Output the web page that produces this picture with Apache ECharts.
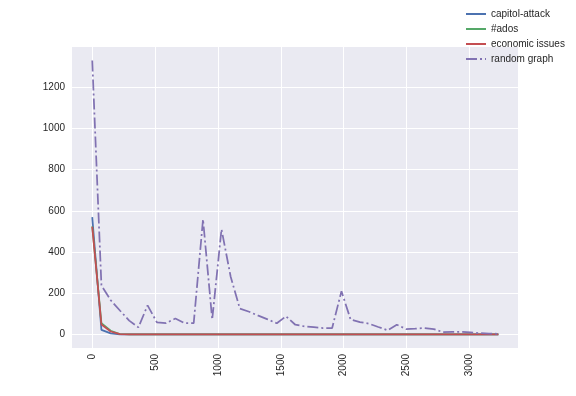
<!DOCTYPE html>
<html lang="en">
<head>
  <meta charset="UTF-8">
  <title>Document</title>
  <style>
    html, body { margin: 0; padding: 0; background: #fff; }
    #chart { width: 576px; height: 396px; }
  </style>
</head>
<body>
  <div id="chart"></div>
  <script src="https://cdn.jsdelivr.net/npm/echarts@6/dist/echarts.min.js"></script>
  <script>
    const xValues = [0, 73, 147, 220, 294, 367, 440, 514, 587, 661, 734, 807, 881, 954, 1028,
      1101, 1174, 1248, 1321, 1395, 1468, 1541, 1615, 1688, 1762, 1835, 1908, 1982, 2055, 2129,
      2202, 2275, 2349, 2422, 2496, 2569, 2642, 2716, 2789, 2863, 2936, 3009, 3083, 3156, 3230];

    const capitolAttack = [570, 22, 5, 0, 0, 0, 0, 0, 0, 0, 0, 0, 0, 0, 0,
      0, 0, 0, 0, 0, 0, 0, 0, 0, 0, 0, 0, 0, 0, 0,
      0, 0, 0, 0, 0, 0, 0, 0, 0, 0, 0, 0, 0, 0, 0];
    const ados = [525, 55, 18, 2, 0, 0, 0, 0, 0, 0, 0, 0, 0, 0, 0,
      0, 0, 0, 0, 0, 0, 0, 0, 0, 0, 0, 0, 0, 0, 0,
      0, 0, 0, 0, 0, 0, 0, 0, 0, 0, 0, 0, 0, 0, 0];
    const economicIssues = [523, 48, 14, 1, 0, 0, 0, 0, 0, 0, 0, 0, 0, 0, 0,
      0, 0, 0, 0, 0, 0, 0, 0, 0, 0, 0, 0, 0, 0, 0,
      0, 0, 0, 0, 0, 0, 0, 0, 0, 0, 0, 0, 0, 0, 0];
    const randomGraph = [1330, 238, 166, 116, 67, 34, 141, 59, 55, 77, 55, 55, 559, 72, 511,
      280, 125, 110, 91, 73, 54, 88, 47, 39, 35, 31, 31, 210, 72, 60,
      52, 36, 20, 47, 26, 28, 31, 26, 11, 12, 13, 10, 6, 4, 3];

    const xTicks = [0, 500, 1000, 1500, 2000, 2500, 3000];
    const yTicks = [0, 200, 400, 600, 800, 1000, 1200];

    const seriesList = [
      { name: 'capitol-attack', values: capitolAttack, color: '#4C72B0', type: 'solid' },
      { name: '#ados', values: ados, color: '#55A868', type: 'solid' },
      { name: 'economic issues', values: economicIssues, color: '#C44E52', type: 'solid' },
      { name: 'random graph', values: randomGraph, color: '#8172B2', type: [11, 3, 2, 3] },
    ];

    const textColor = '#262626';
    const font = 'Liberation Sans, Arial, sans-serif';

    const chart = echarts.init(document.getElementById('chart'));
    chart.setOption({
      animation: false,
      backgroundColor: '#fff',
      textStyle: { fontFamily: font },
      grid: {
        left: 72, right: 58, top: 47, bottom: 48,
        show: true, backgroundColor: '#EAEAF2', borderWidth: 0,
      },
      legend: {
        left: 460, top: 4,
        orient: 'vertical',
        itemWidth: 20, itemHeight: 10, itemGap: 5,
        itemStyle: { opacity: 0 },
        textStyle: { color: textColor, fontSize: 10, fontFamily: font },
        data: seriesList.map(s => s.name),
      },
      xAxis: {
        type: 'value',
        min: -161, max: 3386,
        axisLine: { show: false },
        axisTick: { show: false, customValues: xTicks },
        axisLabel: {
          customValues: xTicks, rotate: 90, margin: 6,
          color: textColor, fontSize: 10, fontFamily: font,
          formatter: v => String(v),
        },
        splitLine: { show: true, lineStyle: { color: '#fff', width: 1 } },
      },
      yAxis: {
        type: 'value',
        min: -66, max: 1396,
        axisLine: { show: false },
        axisTick: { show: false, customValues: yTicks },
        axisLabel: {
          customValues: yTicks, margin: 7,
          color: textColor, fontSize: 10, fontFamily: font,
          formatter: v => String(v),
        },
        splitLine: { show: true, lineStyle: { color: '#fff', width: 1 } },
      },
      series: seriesList.map(s => ({
        name: s.name,
        type: 'line',
        showSymbol: false,
        symbol: 'none',
        color: s.color,
        lineStyle: { color: s.color, width: 1.75, type: s.type },
        data: xValues.map((x, i) => [x, s.values[i]]),
      })),
    });
  </script>
</body>
</html>
